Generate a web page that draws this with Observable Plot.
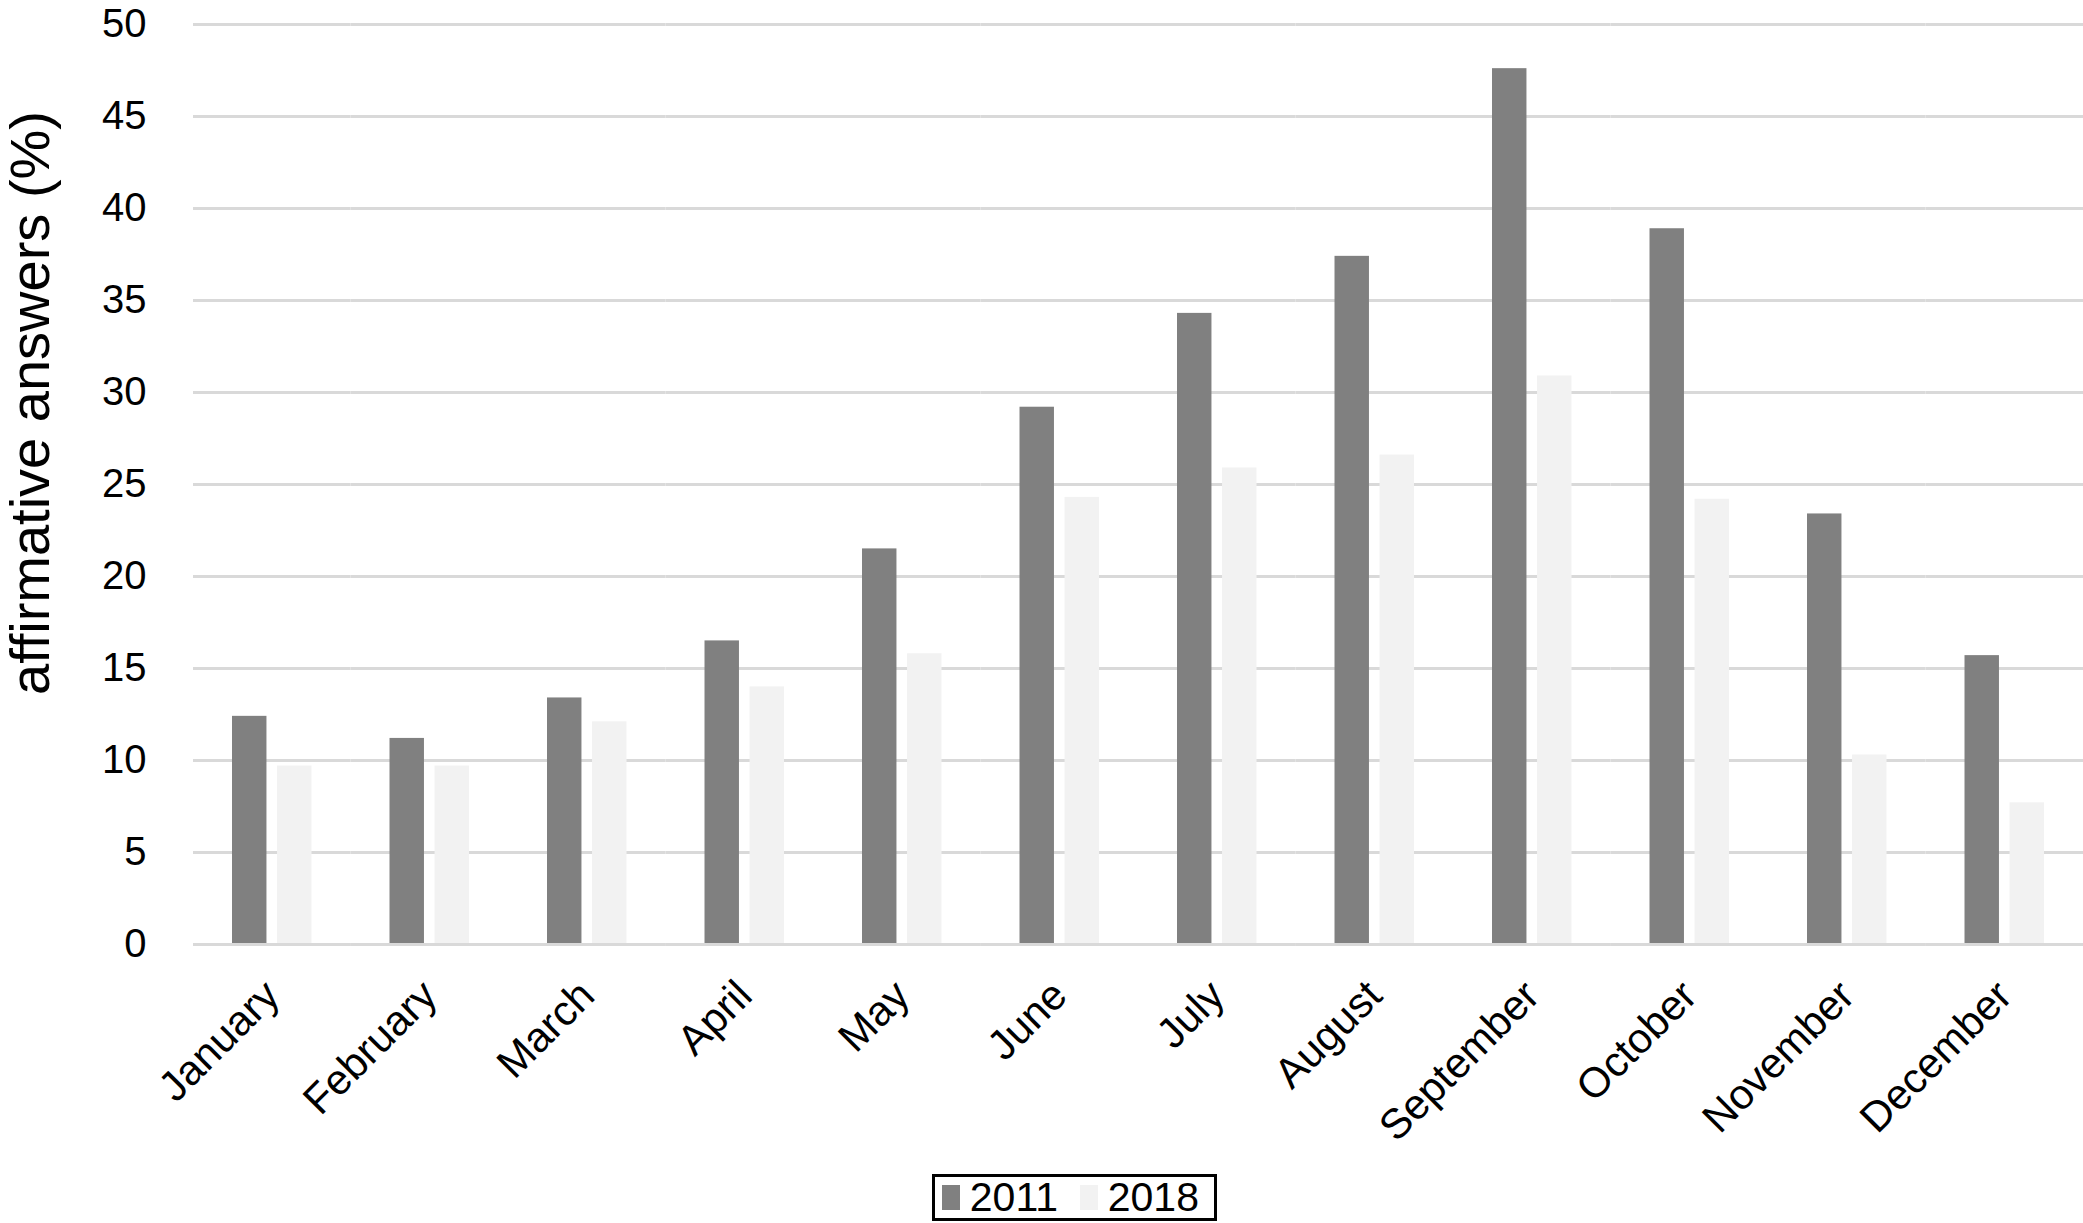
<!DOCTYPE html>
<html>
<head>
<meta charset="utf-8">
<script src="https://cdn.jsdelivr.net/npm/d3@7"></script>
<script src="https://cdn.jsdelivr.net/npm/@observablehq/plot@0.6"></script>
<style>
  html, body { margin: 0; padding: 0; background: #fff; }
  #wrap { position: relative; width: 2083px; height: 1223px; font-family: "Liberation Sans", Arial, Helvetica, sans-serif; color: #000; }
  #ytitle { position: absolute; left: 30px; top: 403px; transform: translate(-50%, -50%) rotate(-90deg); white-space: nowrap; font-size: 56px; line-height: 1; }
  #legend { position: absolute; left: 932px; top: 1174px; width: 279px; height: 41px; border: 3px solid #000; display: flex; align-items: center; font-size: 41px; line-height: 1; box-sizing: content-box; }
  #legend .sw { display: inline-block; width: 23px; height: 25px; margin-left: 7px; margin-right: 10px; }
  #legend .lab { display: inline-block; margin-right: 15px; }
</style>
</head>
<body>
<div id="wrap">
  <div id="chart"></div>
  <div id="ytitle"></div>
  <div id="legend"></div>
</div>
<script>
const months = ["January", "February", "March", "April", "May", "June", "July", "August", "September", "October", "November", "December"];
const years = ["2011", "2018"];
const values2011 = [12.4, 11.2, 13.4, 16.5, 21.5, 29.2, 34.3, 37.4, 47.6, 38.9, 23.4, 15.7];
const values2018 = [9.7, 9.7, 12.1, 14.0, 15.8, 24.3, 25.9, 26.6, 30.9, 24.2, 10.3, 7.7];
const yTicks = [0, 5, 10, 15, 20, 25, 30, 35, 40, 45, 50];
const yTitle = "affirmative answers (%)";
const colors = ["#808080", "#f2f2f2"];

const data = months.flatMap((m, i) => [
  {month: m, year: years[0], value: values2011[i]},
  {month: m, year: years[1], value: values2018[i]}
]);

const chart = Plot.plot({
  width: 2083,
  height: 1160,
  marginTop: 24,
  marginBottom: 216,
  marginLeft: 193,
  marginRight: 0,
  style: {fontFamily: "'Liberation Sans', Arial, Helvetica, sans-serif", fontSize: "40px", color: "#000", background: "#fff"},
  fx: {domain: months, padding: 0, round: false, label: null},
  x: {domain: years, axis: null, round: false, paddingInner: 0.235, paddingOuter: 0.866},
  y: {domain: [0, 50], ticks: yTicks, tickSize: 0, tickPadding: 47, label: null},
  color: {domain: years, range: colors},
  marks: [
    Plot.ruleY(yTicks, {stroke: "#d9d9d9", strokeWidth: 3}),
    Plot.barY(data, {fx: "month", x: "year", y: "value", fill: "year"}),
    Plot.ruleY([0], {stroke: "#d9d9d9", strokeWidth: 3}),
    Plot.axisFx({anchor: "bottom", tickRotate: -45, tickSize: 0, tickPadding: 44, fontSize: 42, label: null})
  ]
});
document.getElementById("chart").appendChild(chart);

document.getElementById("ytitle").textContent = yTitle;

const legend = document.getElementById("legend");
years.forEach((y, i) => {
  const sw = document.createElement("span");
  sw.className = "sw";
  sw.style.background = colors[i];
  legend.appendChild(sw);
  const lab = document.createElement("span");
  lab.className = "lab";
  lab.textContent = y;
  legend.appendChild(lab);
});
</script>
</body>
</html>
